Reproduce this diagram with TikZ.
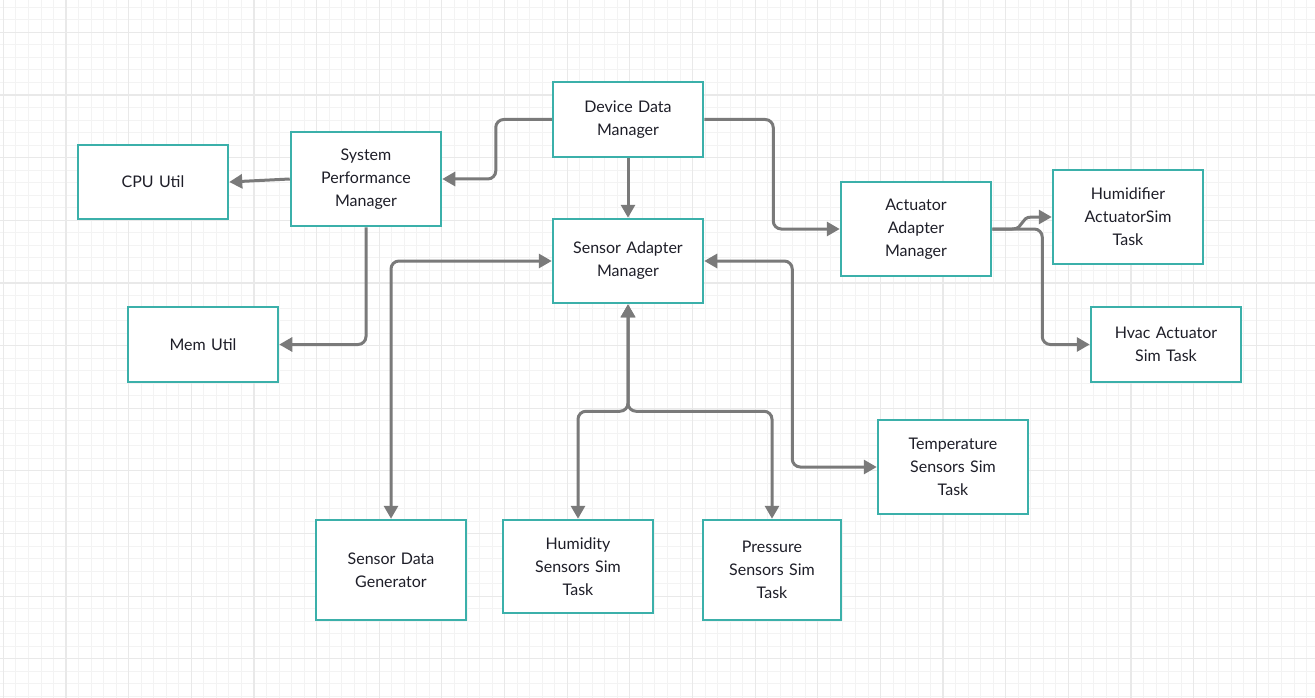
\documentclass[tikz,border=0pt]{standalone}
\usepackage{fontspec}
\setmainfont{Lato}
\usepackage{xcolor}
\usepackage{tikz}
\usetikzlibrary{calc,arrows.meta,positioning}
\definecolor{BoxTeal}{HTML}{3BB0AA}
\definecolor{LinkGrey}{HTML}{7A7A7A}
\definecolor{GridMajor}{HTML}{E9E9E9}
\definecolor{GridMinor}{HTML}{F3F3F3}
\definecolor{TextInk}{HTML}{1E1E28}

\tikzset{
  block/.style={draw=BoxTeal, line width=2.5pt, fill=white, minimum width=150pt,
    text width=140pt, align=center, inner sep=0pt, text=TextInk,
    font=\fontsize{16}{23}\selectfont},
  link/.style={draw=LinkGrey, line width=3pt, rounded corners=8pt,
    -{Triangle[length=13pt,width=14pt]}},
  twoway/.style={link, {Triangle[length=13pt,width=14pt]}-{Triangle[length=13pt,width=14pt]}}
}

\begin{document}
\begin{tikzpicture}[x=1pt,y=-1pt]
\useasboundingbox (0,0) rectangle (1315,698);
\fill[white] (0,0) rectangle (1315,698);
% grid paper
\foreach \i in {0,...,106}
  \draw[GridMinor, line width=0.8pt] ({-9.2+12.53*\i},0) -- ({-9.2+12.53*\i},698);
\foreach \i in {0,...,57}
  \draw[GridMinor, line width=0.8pt] (0,{-5.3+12.53*\i}) -- (1315,{-5.3+12.53*\i});
\foreach \i in {0,...,21}
  \draw[GridMajor, line width=1.2pt] ({3.3+62.65*\i},0) -- ({3.3+62.65*\i},698);
\foreach \i in {0,...,11}
  \draw[GridMajor, line width=1.2pt] (0,{32.3+62.65*\i}) -- (1315,{32.3+62.65*\i});

% boxes
\node[block, minimum height=75pt] (ddm) at (628,119.5) {Device Data\\Manager};
\node[block, minimum height=94pt] (spm) at (366,179) {System\\Performance\\Manager};
\node[block, minimum height=74pt] (cpu) at (153,182) {CPU Util};
\node[block, minimum height=75pt] (mem) at (203,344.5) {Mem Util};
\node[block, minimum height=84pt] (sam) at (628,261) {Sensor Adapter\\Manager};
\node[block, minimum height=94pt] (aam) at (916,229) {Actuator\\Adapter\\Manager};
\node[block, minimum height=94pt] (hat) at (1128,217) {Humidifier\\ActuatorSim\\Task};
\node[block, minimum height=75pt] (hvac) at (1166,344.5) {Hvac Actuator\\Sim Task};
\node[block, minimum height=94pt] (tst) at (953,467) {Temperature\\Sensors Sim\\Task};
\node[block, minimum height=100pt] (sdg) at (391,570) {Sensor Data\\Generator};
\node[block, minimum height=93pt] (hst) at (578,566.5) {Humidity\\Sensors Sim\\Task};
\node[block, minimum height=100pt, minimum width=138pt, text width=130pt] (pst) at (772,570) {Pressure\\Sensors Sim\\Task};

% links
\draw[link] (ddm.west) -- ++(-56,0) |- (spm.east);
\draw[link] (ddm.south) -- (sam.north);
\draw[link] (ddm.east) -- ++(69,0) |- (aam.west);
\draw[link] (spm.west) -- (cpu.east);
\draw[link] (spm.south) |- (mem.east);
\draw[twoway] (sam.west) -| (sdg.north);
\draw[twoway] (sam.south) -- ++(0,107) -| (hst.north);
\draw[twoway] (sam.south) -- ++(0,107) -| (pst.north);
\draw[twoway] (sam.east) -- ++(88,0) |- (tst.west);
\draw[link, sharp corners] (aam.east) -- ++(20,0)
  .. controls +(12,0) and +(-12,0) .. ($(hat.west)+(-20,0)$) -- (hat.west);
\draw[link] (aam.east) -- ++(50,0) |- (hvac.west);
\end{tikzpicture}
\end{document}
